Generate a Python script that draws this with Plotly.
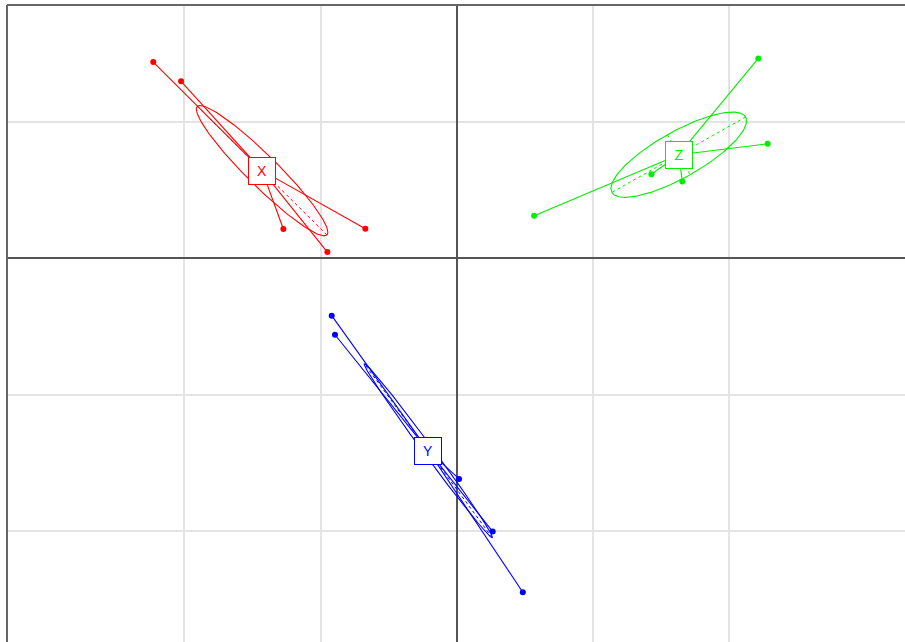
import numpy as np
import plotly.graph_objects as go

# ---- data ----
groups = ["X", "Y", "Z"]
group_colors = ["#ff0000", "#0000ff", "#00ee00"]

x_X = [-2.228, -2.024, -1.273, -0.950, -0.671]
y_X = [1.441, 1.300, 0.215, 0.046, 0.217]

x_Y = [-0.918, -0.894, 0.017, 0.264, 0.485]
y_Y = [-0.421, -0.561, -1.620, -2.006, -2.452]

x_Z = [2.214, 2.283, 1.656, 1.429, 0.568]
y_Z = [1.468, 0.841, 0.565, 0.617, 0.313]

x_grid = [-2, -1, 0, 1, 2]
y_grid = [-2, -1, 0, 1]

xs = {"X": x_X, "Y": x_Y, "Z": x_Z}
ys = {"X": y_X, "Y": y_Y, "Z": y_Z}

ELLIPSE_SCALE = 0.8

fig = go.Figure()
annotations = []

for g, col in zip(groups, group_colors):
    x = np.array(xs[g])
    y = np.array(ys[g])
    cx, cy = x.mean(), y.mean()
    # star segments
    sx, sy = [], []
    for xi, yi in zip(x, y):
        sx += [cx, xi, None]
        sy += [cy, yi, None]
    fig.add_trace(go.Scatter(x=sx, y=sy, mode="lines",
                             line=dict(color=col, width=1.1), hoverinfo="skip"))
    # covariance ellipse
    dx, dy = x - cx, y - cy
    cov = np.array([[np.mean(dx * dx), np.mean(dx * dy)],
                    [np.mean(dx * dy), np.mean(dy * dy)]])
    vals, vecs = np.linalg.eigh(cov)
    order = np.argsort(vals)[::-1]
    vals, vecs = vals[order], vecs[:, order]
    a = ELLIPSE_SCALE * np.sqrt(max(vals[0], 0))
    b = ELLIPSE_SCALE * np.sqrt(max(vals[1], 0))
    t = np.linspace(0, 2 * np.pi, 200)
    ex = cx + a * np.cos(t) * vecs[0, 0] + b * np.sin(t) * vecs[0, 1]
    ey = cy + a * np.cos(t) * vecs[1, 0] + b * np.sin(t) * vecs[1, 1]
    fig.add_trace(go.Scatter(x=ex, y=ey, mode="lines",
                             line=dict(color=col, width=1.1), hoverinfo="skip"))
    # axes of ellipse (dashed)
    axx = [cx - a * vecs[0, 0], cx + a * vecs[0, 0], None,
           cx - b * vecs[0, 1], cx + b * vecs[0, 1]]
    axy = [cy - a * vecs[1, 0], cy + a * vecs[1, 0], None,
           cy - b * vecs[1, 1], cy + b * vecs[1, 1]]
    fig.add_trace(go.Scatter(x=axx, y=axy, mode="lines",
                             line=dict(color=col, width=1, dash="3px,3px"),
                             hoverinfo="skip"))
    # points
    fig.add_trace(go.Scatter(x=x, y=y, mode="markers",
                             marker=dict(color=col, size=6), hoverinfo="skip"))
    annotations.append(dict(x=cx, y=cy, xref="x", yref="y", text=g,
                            showarrow=False,
                            font=dict(color=col, size=14, family="Liberation Sans, Arial"),
                            bgcolor="white", bordercolor=col, borderwidth=1,
                            width=22, height=22, borderpad=2))

fig.update_layout(
    width=905, height=642,
    margin=dict(l=7, r=0, t=5, b=0, pad=0, autoexpand=False),
    plot_bgcolor="white", paper_bgcolor="white",
    showlegend=False,
    annotations=annotations,
    shapes=[
        dict(type="line", xref="paper", yref="paper", x0=0, x1=0, y0=0, y1=1,
             line=dict(color="#666666", width=2)),
        dict(type="line", xref="paper", yref="paper", x0=0, x1=1, y0=1, y1=1,
             line=dict(color="#666666", width=2)),
    ],
)
fig.update_xaxes(range=[-3.302, 3.291], tickvals=x_grid, showticklabels=False,
                 showgrid=True, gridcolor="#e3e3e3", gridwidth=1.5,
                 zeroline=True, zerolinecolor="#555555", zerolinewidth=1.5,
                 showline=False, ticks="")
fig.update_yaxes(range=[-2.817, 1.860], tickvals=y_grid, showticklabels=False,
                 showgrid=True, gridcolor="#e3e3e3", gridwidth=1.5,
                 zeroline=True, zerolinecolor="#555555", zerolinewidth=1.5,
                 showline=False, ticks="")

fig.write_html("out.html", config={"displayModeBar": False},
               post_script="document.body.style.margin='0';")
